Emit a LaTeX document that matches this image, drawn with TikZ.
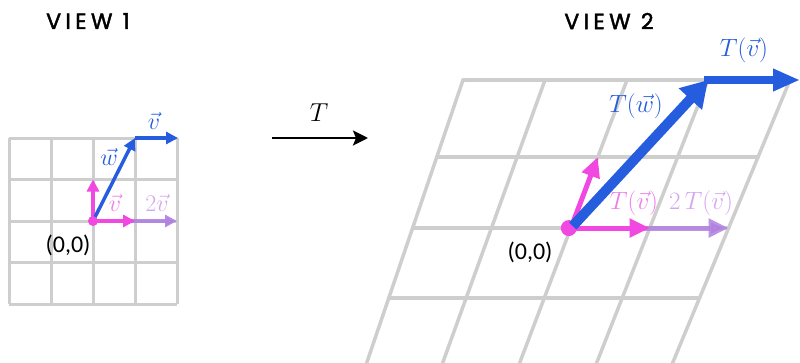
\RequirePackage{fix-cm}
\documentclass[tikz,border=0pt]{standalone}
\usepackage{fontspec}
\newfontfamily\titlefont[LetterSpace=20,FakeBold=2]{Poppins}
\newfontfamily\lblfont{Carlito}
\usetikzlibrary{arrows.meta,calc}
\definecolor{gridgray}{RGB}{206,206,206}
\definecolor{vblue}{RGB}{38,92,222}
\definecolor{vmag}{RGB}{240,72,224}
\definecolor{vpurp}{RGB}{176,128,224}
\definecolor{lpink}{RGB}{236,128,232}
\definecolor{llav}{RGB}{212,168,238}
\begin{document}
\begin{tikzpicture}[x=1pt,y=-1pt,
  every node/.style={inner sep=0pt},
  gridA/.style={gridgray,line width=3pt},
  gridB/.style={gridgray,line width=3.5pt,line cap=round},
  vecA/.style={line width=3.5pt,-{Triangle[length=12pt,width=12pt]}},
  vecB/.style={line width=5pt,-{Triangle[length=20pt,width=18pt]}},
  title/.style={font=\titlefont\fontsize{22}{22}\selectfont},
  mlblA/.style={font=\fontsize{24}{24}\selectfont},
  mlblB/.style={font=\fontsize{25}{25}\selectfont},
  origin/.style={font=\lblfont\fontsize{24}{24}\selectfont}]
\useasboundingbox (0,0) rectangle (800,362);

% titles
\node[title] (t1) at (88,21) {VIEW 1};
\node[title] (t2) at (609,21) {VIEW 2};

% ---------- view 1 grid
\foreach \i in {0,...,4} {
  \draw[gridA] (9+42*\i,138) -- (9+42*\i,304);
  \draw[gridA] (9,138+41.5*\i) -- (177,138+41.5*\i);
}
\coordinate (O1) at (93,221);
\coordinate (V1) at (135,221);
\coordinate (VV1) at (177,221);
\coordinate (U1) at (93,179.5);
\coordinate (W1) at (135,138);
\coordinate (WV1) at (178,138);

\draw[vecA,vpurp,opacity=0.9] (V1) ++(-4,0) -- (VV1);
\draw[vecA,vmag] (O1) -- (V1);
\draw[vecA,vmag] (O1) -- (U1);
\draw[vecA,vblue] (O1) -- (W1);
\draw[vecA,vblue] (W1) -- (WV1);
\fill[vmag] (O1) circle (5);

\node[mlblA,vblue] (lw1) at (109,157) {$\vec{w}$};
\node[mlblA,vblue] (lv1) at (154,121) {$\vec{v}$};
\node[mlblA,lpink] (lvp1) at (115,203) {$\vec{v}$};
\node[mlblA,llav] (l2v1) at (157,203) {$2\vec{v}$};
\node[origin] (o1) at (68,245) {(0,0)};

% ---------- transform arrow
\coordinate (A1) at (272,138);
\coordinate (A2) at (368,138);
\draw[line width=2.6pt,-{Stealth[length=15pt,width=15pt,inset=3pt]}] (A1) -- (A2);
\node[font=\fontsize{26}{26}\selectfont] (tl) at (319,113) {$T$};

% ---------- view 2 grid
\coordinate (T0) at (463,80);  \coordinate (B0) at (367,362);
\coordinate (T1) at (545,80);  \coordinate (B1) at (443,362);
\coordinate (T2) at (627,80);  \coordinate (B2) at (520,362);
\coordinate (T3) at (708,80);  \coordinate (B3) at (597,362);
\coordinate (T4) at (790,80);  \coordinate (B4) at (673,362);
\begin{scope}
\clip (0,0) rectangle (800,362);
\foreach \i in {0,...,4} { \draw[gridB] (T\i) -- ($(T\i)!1.02!(B\i)$); }
\foreach \t in {0,0.273,0.525,0.773} {
  \draw[gridB] ($(T0)!\t!(B0)$) -- ($(T4)!\t!(B4)$);
}
\end{scope}

\coordinate (O2) at ($(T2)!0.525!(B2)$);
\coordinate (V2) at ($(T3)!0.525!(B3)$);
\coordinate (VV2) at ($(T4)!0.525!(B4)$);
\coordinate (U2) at ($(T2)!0.273!(B2)$);
\coordinate (W2) at (T3);
\coordinate (WV2) at (800,80);

\draw[vecB,vpurp,opacity=0.85] ($(V2)+(-12,0)$) -- (VV2);
\draw[vecB,vmag] (O2) -- (V2);
\draw[vecB,vmag] (O2) -- (U2);
\fill[vmag] ($(O2)+(-2,0)$) circle (8);
\draw[line width=10pt,vblue,-{Triangle[length=26pt,width=30pt]}] ($(O2)+(2,-2)$) -- (W2);
\draw[line width=8pt,vblue,-{Triangle[length=27pt,width=21pt]}] ($(W2)+(-4,0)$) -- (WV2);

\node[mlblB,vblue] (ltv) at (744,50) {$T(\vec{v})$};
\node[mlblB,vblue] (ltw) at (636,106) {$T(\vec{w})$};
\node[mlblB,lpink] (ltvp) at (634,203) {$T(\vec{v})$};
\node[mlblB,llav] (l2tv) at (701,203) {$2\,T(\vec{v})$};
\node[origin] (o2) at (530,252) {(0,0)};
\end{tikzpicture}
\end{document}
